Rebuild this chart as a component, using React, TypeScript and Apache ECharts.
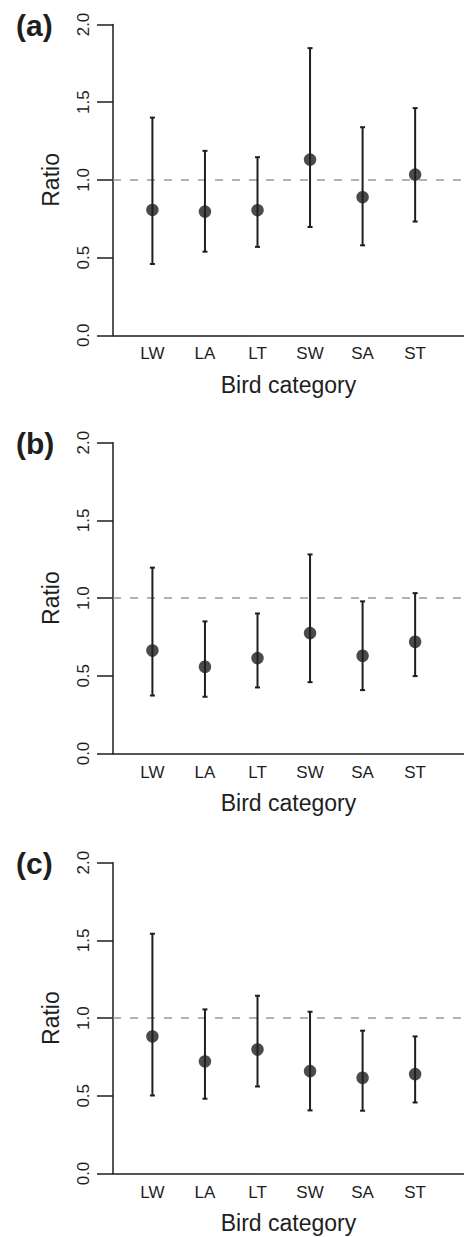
import React, { useEffect, useRef } from "react";
import * as echarts from "echarts";

const categories = ["LW", "LA", "LT", "SW", "SA", "ST"];
const panelLabels = ["(a)", "(b)", "(c)"];

const meanA = [0.807, 0.796, 0.805, 1.131, 0.889, 1.034];
const lowA = [0.459, 0.538, 0.569, 0.697, 0.579, 0.732];
const highA = [1.401, 1.187, 1.146, 1.848, 1.339, 1.462];

const meanB = [0.663, 0.558, 0.614, 0.775, 0.629, 0.719];
const lowB = [0.373, 0.365, 0.425, 0.459, 0.408, 0.498];
const highB = [1.196, 0.85, 0.901, 1.281, 0.979, 1.032];

const meanC = [0.882, 0.721, 0.798, 0.659, 0.616, 0.64];
const lowC = [0.502, 0.481, 0.56, 0.406, 0.404, 0.457];
const highC = [1.543, 1.056, 1.144, 1.041, 0.919, 0.882];

const panels = [
  { mean: meanA, low: lowA, high: highA },
  { mean: meanB, low: lowB, high: highB },
  { mean: meanC, low: lowC, high: highC },
];

const FONT = "'Liberation Sans', Arial, Helvetica, sans-serif";
const INK = "#1e1e1e";
const gridTops = [24.5, 442.7, 862.7];
const gridHeight = 310.8;
const X_MIN = 0.25;
const X_MAX = 6.93;

export default function App() {
  const ref = useRef<HTMLDivElement>(null);
  useEffect(() => {
    if (!ref.current) return;
    const chart = echarts.init(ref.current, null, { renderer: "svg" });
    const grids: any[] = [];
    const xAxes: any[] = [];
    const yAxes: any[] = [];
    const series: any[] = [];
    const graphics: any[] = [];
    panels.forEach((p, i) => {
      grids.push({ left: 113, right: 0, top: gridTops[i], height: gridHeight, containLabel: false });
      xAxes.push({
        type: "value",
        gridIndex: i,
        min: X_MIN,
        max: X_MAX,
        name: "Bird category",
        nameLocation: "middle",
        nameGap: 38,
        nameTextStyle: { fontFamily: FONT, fontSize: 23, color: INK },
        axisLine: { show: true, onZero: false, lineStyle: { color: INK, width: 1.5 } },
        axisTick: { show: false },
        splitLine: { show: false },
        axisLabel: {
          customValues: [1, 2, 3, 4, 5, 6],
          formatter: (v: number) => categories[Math.round(v) - 1] ?? "",
          fontFamily: FONT,
          fontSize: 17,
          color: INK,
          margin: 10,
        },
      });
      yAxes.push({
        type: "value",
        gridIndex: i,
        min: 0,
        max: 2,
        interval: 0.5,
        name: "Ratio",
        nameLocation: "middle",
        nameRotate: 90,
        nameGap: 51,
        nameTextStyle: { fontFamily: FONT, fontSize: 23, color: INK },
        axisLine: { show: true, onZero: false, lineStyle: { color: INK, width: 1.5 } },
        axisTick: { show: true, length: 16, inside: false, lineStyle: { color: INK, width: 1.5 } },
        splitLine: { show: false },
        axisLabel: {
          rotate: 90,
          formatter: (v: number) => v.toFixed(1),
          fontFamily: FONT,
          fontSize: 17,
          color: INK,
          margin: 21,
        },
      });
      const barData = categories.map((_, k) => [k + 1, p.low[k], p.high[k]]);
      series.push({
        type: "custom",
        xAxisIndex: i,
        yAxisIndex: i,
        data: barData,
        silent: true,
        z: 3,
        renderItem: (params: any, api: any) => {
          const x = api.value(0);
          const lo = api.coord([x, api.value(1)]);
          const hi = api.coord([x, api.value(2)]);
          const cap = 2.5;
          const style = { stroke: INK, lineWidth: 2 };
          return {
            type: "group",
            children: [
              { type: "line", shape: { x1: lo[0], y1: lo[1], x2: hi[0], y2: hi[1] }, style },
              { type: "line", shape: { x1: lo[0] - cap, y1: lo[1], x2: lo[0] + cap, y2: lo[1] }, style },
              { type: "line", shape: { x1: hi[0] - cap, y1: hi[1], x2: hi[0] + cap, y2: hi[1] }, style },
            ],
          };
        },
      });
      series.push({
        type: "scatter",
        xAxisIndex: i,
        yAxisIndex: i,
        data: categories.map((_, k) => [k + 1, p.mean[k]]),
        symbol: "circle",
        symbolSize: 12.5,
        itemStyle: { color: INK },
        z: 4,
        markLine: {
          silent: true,
          symbol: "none",
          label: { show: false },
          lineStyle: { color: "#999999", width: 1.5, type: [8, 9] },
          data: [{ yAxis: 1.0 }],
          z: 1,
        },
      });
      graphics.push({
        type: "text",
        left: 16,
        top: gridTops[i] - 14,
        style: {
          text: panelLabels[i],
          fontFamily: FONT,
          fontSize: 30,
          fontWeight: "bold",
          fill: INK,
        },
      });
    });
    chart.setOption({
      animation: false,
      backgroundColor: "#ffffff",
      grid: grids,
      xAxis: xAxes,
      yAxis: yAxes,
      series,
      graphic: graphics,
    });
    return () => chart.dispose();
  }, []);
  return (
    <div
      ref={ref}
      style={{ position: "absolute", left: 0, top: 0, width: 464, height: 1237 }}
    />
  );
}
